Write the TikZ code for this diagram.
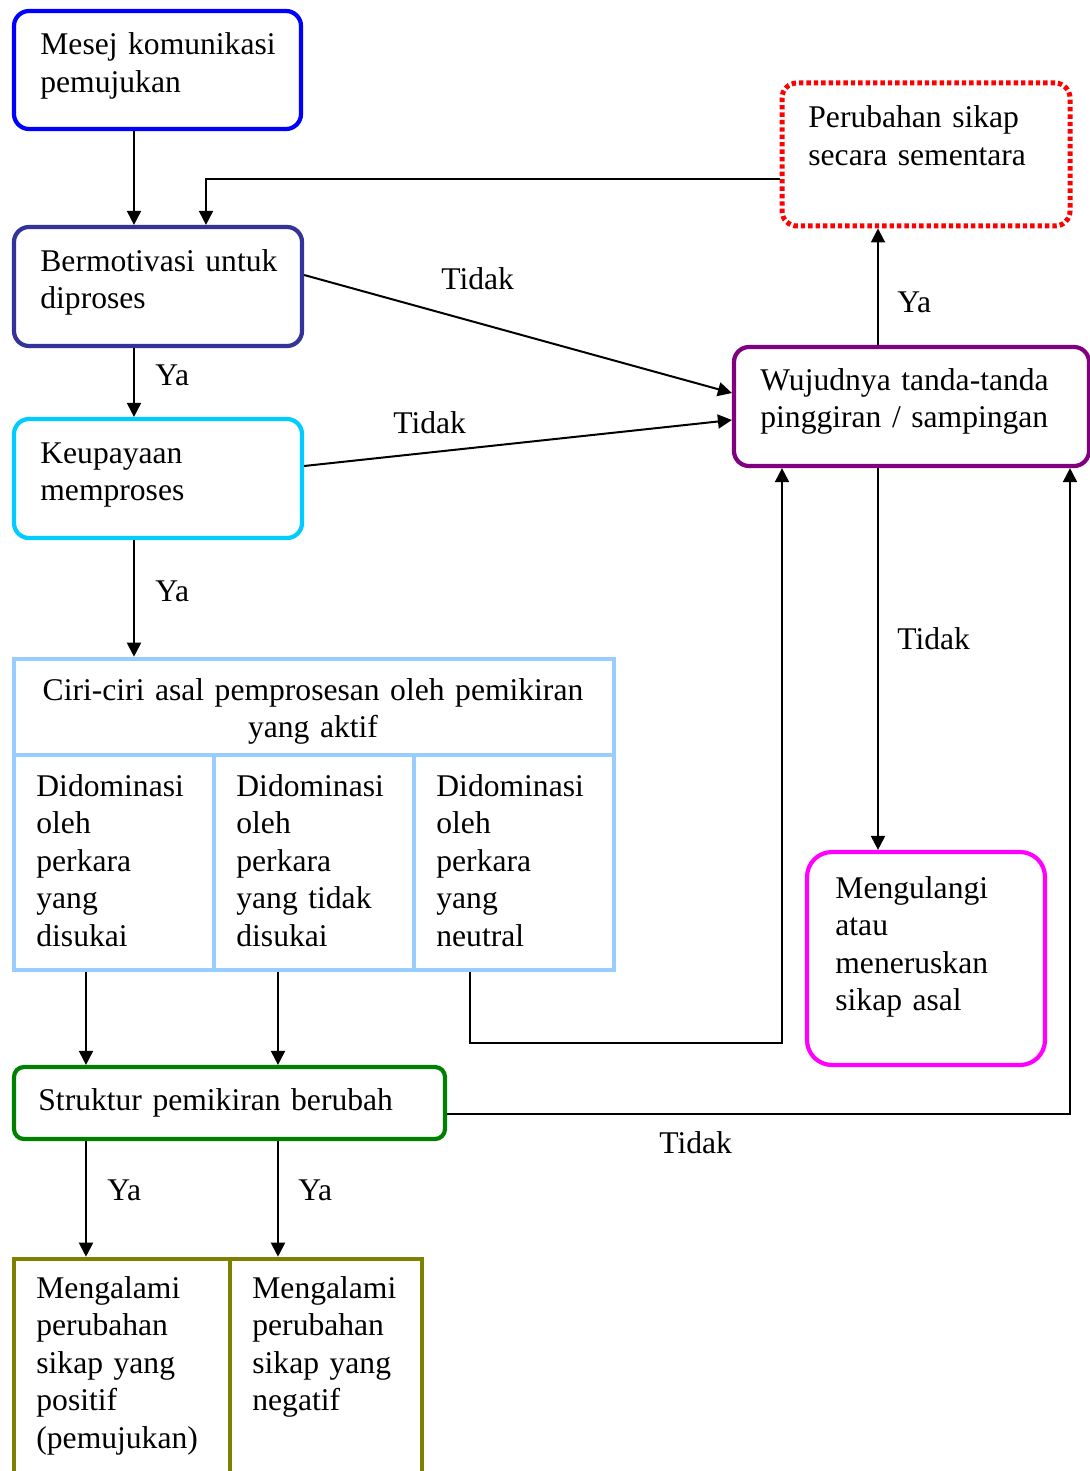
\documentclass[tikz,border=0pt]{standalone}
\usepackage{fontspec}
\setmainfont{Liberation Serif}
\usetikzlibrary{arrows.meta}
\definecolor{cBlue}{HTML}{0000FF}
\definecolor{cIndigo}{HTML}{333399}
\definecolor{cCyan}{HTML}{00CCFF}
\definecolor{cLight}{HTML}{99CCFF}
\definecolor{cGreen}{HTML}{008000}
\definecolor{cOlive}{HTML}{808000}
\definecolor{cRed}{HTML}{FF0000}
\definecolor{cPurple}{HTML}{800080}
\definecolor{cMagenta}{HTML}{FF00FF}
\begin{document}
\begin{tikzpicture}[x=0.5pt,y=-0.5pt,
  box/.style={draw, line width=2.1pt, inner sep=0pt, rounded corners=7.5pt},
  sqbox/.style={draw, line width=2.3pt, inner sep=0pt},
  txt/.style={anchor=base west, inner sep=0pt, align=left, text width=240pt, font=\fontsize{15.8pt}{18.75pt}\selectfont},
  ctxt/.style={anchor=base, inner sep=0pt, align=center, text width=300pt, font=\fontsize{15.8pt}{18.5pt}\selectfont},
  lbl/.style={anchor=base west, inner sep=0pt, font=\fontsize{15.8pt}{18.75pt}\selectfont},
  arr/.style={line width=1pt, -{Triangle[length=7pt,width=7pt]}},
]
\useasboundingbox (0,0) rectangle (1089,1471);

% helper coordinates
\coordinate (x86) at (86,0);
\coordinate (x134) at (134,0);
\coordinate (x206) at (206,0);
\coordinate (x278) at (278,0);
\coordinate (x470) at (470,0);
\coordinate (x782) at (782,0);
\coordinate (x878) at (878,0);
\coordinate (x1070) at (1070,0);
\coordinate (y179) at (0,179);
\coordinate (y275) at (0,275);
\coordinate (y393) at (0,393);
\coordinate (y420) at (0,420);
\coordinate (y466) at (0,466);
\coordinate (y1114) at (0,1114);
\coordinate (k1) at (782,1043);

% boxes
\node[box, draw=cBlue, minimum width=143.5pt, minimum height=59pt] (B1) at (157.5,70) {};
\node[box, draw=cIndigo, minimum width=144pt, minimum height=59.5pt] (B2) at (158,286.5) {};
\node[box, draw=cCyan, minimum width=144pt, minimum height=59.5pt] (B3) at (158,478.5) {};
\node[sqbox, draw=cLight, minimum width=300pt, minimum height=155.5pt] (T) at (314,814.5) {};
\draw[cLight, line width=2.3pt] (14,755) -- (614,755);
\draw[cLight, line width=2.3pt] (214,755) -- (214,970);
\draw[cLight, line width=2.3pt] (414,755) -- (414,970);
\node[box, rounded corners=5pt, draw=cGreen, minimum width=215.5pt, minimum height=36pt] (S) at (229.5,1103) {};
\node[sqbox, draw=cOlive, minimum width=108pt, minimum height=121pt] (A) at (122,1380) {};
\node[sqbox, draw=cOlive, minimum width=96pt, minimum height=121pt] (Bx) at (326,1380) {};
\node[box, draw=cRed, line width=2.5pt, dash pattern=on 2.2pt off 1.5pt, minimum width=144pt, minimum height=71.5pt] (P) at (926,154.5) {};
\node[box, draw=cPurple, minimum width=177.5pt, minimum height=59.5pt] (W) at (911.5,406.5) {};
\node[box, rounded corners=12.5pt, draw=cMagenta, minimum width=119pt, minimum height=106.5pt] (M) at (926,958.5) {};

% texts
\node[txt] (t1) at (40,55) {Mesej komunikasi\\pemujukan};
\node[txt] (t2) at (40,271) {Bermotivasi untuk\\diproses};
\node[txt] (t3) at (40,463) {Keupayaan\\memproses};
\node[ctxt] (t4) at (313,700) {Ciri-ciri asal pemprosesan oleh pemikiran\\yang aktif};
\node[txt] (t5) at (36,796) {Didominasi\\oleh\\perkara\\yang\\disukai};
\node[txt] (t6) at (236,796) {Didominasi\\oleh\\perkara\\yang tidak\\disukai};
\node[txt] (t7) at (436,796) {Didominasi\\oleh\\perkara\\yang\\neutral};
\node[txt] (t8) at (38,1110) {Struktur pemikiran berubah};
\node[txt] (t9) at (36,1298) {Mengalami\\perubahan\\sikap yang\\positif\\(pemujukan)};
\node[txt] (t10) at (252,1298) {Mengalami\\perubahan\\sikap yang\\negatif};
\node[txt] (t11) at (808,128) {Perubahan sikap\\secara sementara};
\node[txt] (t12) at (760,390) {Wujudnya tanda-tanda\\pinggiran / sampingan};
\node[txt] (t13) at (835,898) {Mengulangi\\atau\\meneruskan\\sikap asal};

% connectors
\draw[arr] (B1.south -| x134) -- (B2.north -| x134);
\draw[arr] (P.west |- y179) -| (B2.north -| x206);
\draw[arr] (B2.south -| x134) -- (B3.north -| x134);
\draw[arr] (B3.south -| x134) -- (T.north -| x134);
\draw[arr] (B2.east |- y275) -- (W.west |- y393);
\draw[arr] (B3.east |- y466) -- (W.west |- y420);
\draw[arr] (W.north -| x878) -- (P.south -| x878);
\draw[arr] (W.south -| x878) -- (M.north -| x878);
\draw[arr] (T.south -| x86) -- (S.north -| x86);
\draw[arr] (T.south -| x278) -- (S.north -| x278);
\draw[arr] (T.south -| x470) |- (k1) -- (W.south -| x782);
\draw[arr] (S.east |- y1114) -| (W.south -| x1070);
\draw[arr] (S.south -| x86) -- (A.north -| x86);
\draw[arr] (S.south -| x278) -- (Bx.north -| x278);

% labels
\node[lbl] (l1) at (155,385) {Ya};
\node[lbl] (l2) at (155,601) {Ya};
\node[lbl] (l3) at (441,289) {Tidak};
\node[lbl] (l4) at (393,433) {Tidak};
\node[lbl] (l5) at (897,312) {Ya};
\node[lbl] (l6) at (897,649) {Tidak};
\node[lbl] (l7) at (107,1200) {Ya};
\node[lbl] (l8) at (298,1200) {Ya};
\node[lbl] (l9) at (659,1153) {Tidak};
\end{tikzpicture}
\end{document}
